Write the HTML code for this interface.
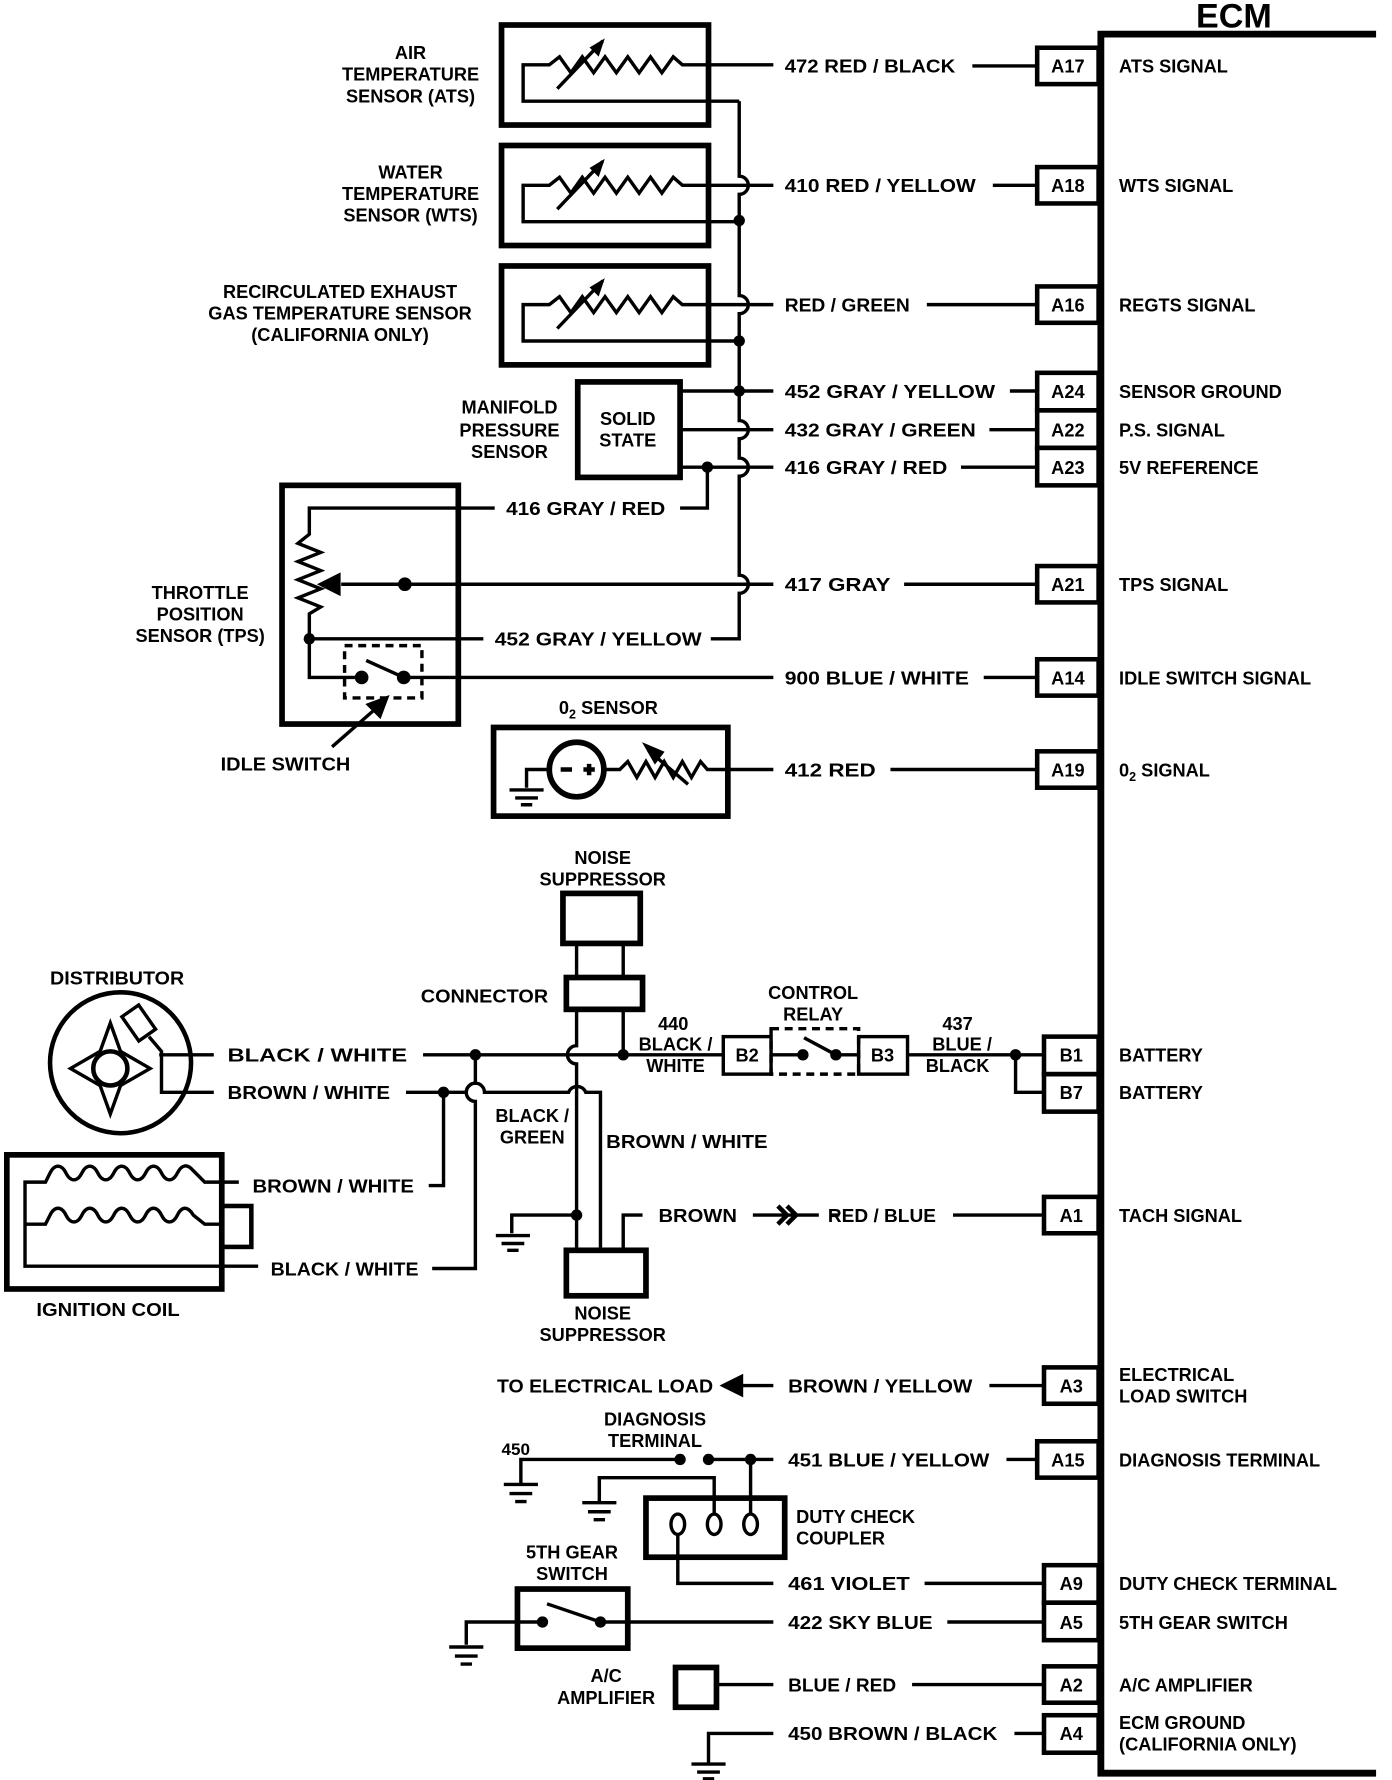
<!DOCTYPE html>
<html><head><meta charset="utf-8"><style>
html,body{margin:0;padding:0;background:#fff;}
svg{display:block;}
text{font-family:"Liberation Sans",sans-serif;font-weight:bold;font-size:16px;fill:#000;}
</style></head><body>
<svg width="1392" height="1780" viewBox="0 0 1224 1566" preserveAspectRatio="none" xmlns="http://www.w3.org/2000/svg">
<g fill="none" stroke="#000" stroke-width="3" stroke-linejoin="miter">
<!-- ECM -->
<path d="M1210 30 H968 V1560 H1210" stroke-width="6"/>
<!-- pin boxes -->
<g stroke-width="4">
<rect x="912" y="42" width="54" height="32"/>
<rect x="912" y="147" width="54" height="32"/>
<rect x="912" y="252" width="54" height="32"/>
<rect x="912" y="328" width="54" height="33"/>
<rect x="912" y="361" width="54" height="33"/>
<rect x="912" y="394" width="54" height="33"/>
<rect x="912" y="498" width="54" height="32"/>
<rect x="912" y="580" width="54" height="32"/>
<rect x="912" y="661" width="54" height="32"/>
<rect x="918" y="912" width="48" height="33"/>
<rect x="918" y="945" width="48" height="33"/>
<rect x="918" y="1053" width="48" height="32"/>
<rect x="918" y="1203" width="48" height="32"/>
<rect x="912" y="1268" width="54" height="32"/>
<rect x="918" y="1377" width="48" height="33"/>
<rect x="918" y="1410" width="48" height="33"/>
<rect x="918" y="1466" width="48" height="32"/>
<rect x="918" y="1509" width="48" height="33"/>
</g>
<!-- pin lead lines -->
<path d="M855 58H912M873 163H912M815 268H912M888 344H912M870 378H912M845 411H912M795 514H912M865 596H912M783 677H912M838 1069H918M870 1219H918M885 1284H912M813 1393H918M833 1427H918M802 1482H918M892 1525H918"/>

<!-- sensor boxes -->
<g stroke-width="5">
<rect x="441" y="22" width="182" height="88"/>
<rect x="441" y="128" width="182" height="88"/>
<rect x="441" y="234" width="182" height="87"/>
<rect x="508" y="336" width="90" height="84"/>
<rect x="248" y="427" width="155" height="210"/>
<rect x="434" y="640" width="206" height="78"/>
</g>
<!-- resistors in sensors -->
<g id="res">
<path d="M680 57 H600 L592 50 L582 64 L572 50 L562 64 L552 50 L542 64 L532 50 L522 64 L512 50 L502 64 L492 50 L483 57 H460 V89 H650"/>
<path d="M490 78 L530 36" />
<path d="M530 36 L520 42 L526 48 Z" fill="#000" stroke-width="2"/>
</g>
<use href="#res" y="106"/>
<use href="#res" y="211"/>
<!-- ground bus x=650 with hops -->
<path d="M650 89 V155 A8 8 0 0 1 650 171 V260 A8 8 0 0 1 650 276 V370 A8 8 0 0 1 650 386 V403 A8 8 0 0 1 650 419 V506 A8 8 0 0 1 650 522 V562 H625"/>
<!-- MAP lines -->
<path d="M598 344H680M598 378H680M598 411H680"/>
<path d="M622 411 V447 H598"/>
<!-- TPS internals -->
<path d="M435 447 H272 V470 L262 478 L282 486 L262 494 L282 502 L262 510 L282 518 L262 526 L282 534 L272 540 V596 H318"/>
<path d="M425 562 H272"/>
<path d="M300 514 H680"/>
<path d="M282 514 L298 506 L298 522 Z" fill="#000"/>
<path d="M322 581 L355 596 M355 596 H680"/>
<rect x="303" y="568" width="68" height="46" stroke-dasharray="7 5"/>
<path d="M292 657 L332 622"/>
<path d="M340 614 L324 620 L334 630 Z" fill="#000"/>
<!-- O2 -->
<circle cx="507" cy="677" r="24" stroke-width="5"/>
<path d="M483 677 H463 V693 M448 695H478M453 702H473M458 708H468"/>
<path d="M531 677 H545 L552 670 L560 684 L568 670 L576 684 L584 670 L592 684 L600 670 L608 684 L616 670 L622 677 H680"/>
<path d="M570 660 L605 690"/>
<path d="M568 656 L576 670 L582 662 Z" fill="#000"/>
<path d="M493 677H503M513 677H523M518 672V682" stroke-width="4"/>

<!-- noise suppressor top & connector -->
<rect x="495" y="786" width="68" height="44" stroke-width="5"/>
<rect x="498" y="860" width="67" height="28" stroke-width="5"/>
<path d="M507 830V860M548 830V860"/>
<path d="M548 888V928"/>
<path d="M507 888 V920 A8 8 0 0 0 507 936 V1100"/>
<!-- distributor -->
<circle cx="106" cy="935" r="62" stroke-width="4"/>
<circle cx="97" cy="940" r="15" stroke-width="4"/>
<path d="M97 900 L106 925 L132 940 L106 955 L97 980 L88 955 L62 940 L88 925 Z" stroke-width="3"/>
<rect x="113" y="887" width="18" height="26" transform="rotate(-35 122 900)" stroke-width="3"/>
<path d="M131 912 L142 925 V955 M140 928 H188 M142 955 V961 H188"/>
<!-- wires around distributor -->
<path d="M372 928 H548"/>
<path d="M357 961 H410 A8 8 0 0 1 426 961 H500 A8 8 0 0 1 515 961 H528 V1100"/>
<path d="M418 928 V953 A8 8 0 0 0 418 969 V1116 H380"/>
<path d="M390 961 V1043 H377"/>
<!-- ignition coil -->
<rect x="6" y="1016" width="189" height="118" stroke-width="5"/>
<rect x="195" y="1061" width="26" height="36" stroke-width="4"/>
<path d="M210 1040 H180 L170 1030 C165 1024 160 1024 156 1032 C152 1040 146 1040 142 1032 C138 1024 132 1024 128 1032 C124 1040 118 1040 114 1032 C110 1024 104 1024 100 1032 C96 1040 90 1040 86 1032 C82 1024 76 1024 72 1032 C68 1040 62 1040 58 1032 C54 1024 48 1024 44 1032 L40 1040 H22 V1114 H227"/>
<path d="M22 1077 H40 L44 1069 C48 1061 54 1061 58 1069 C62 1077 68 1077 72 1069 C76 1061 82 1061 86 1069 C90 1077 96 1077 100 1069 C104 1061 110 1061 114 1069 C118 1077 124 1077 128 1069 C132 1061 138 1061 142 1069 C146 1077 152 1077 156 1069 C160 1061 165 1061 170 1069 L180 1077 H195"/>
<!-- lower noise suppressor -->
<rect x="498" y="1100" width="70" height="40" stroke-width="5"/>
<path d="M548 1100 V1069 H565"/>
<path d="M507 1069 H450 V1085 M436 1087H466M441 1094H461M446 1100H456"/>
<path d="M662 1069 H720 M738 1069 H730"/>
<path d="M684 1061 L692 1069 L684 1077 M692 1061 L700 1069 L692 1077" stroke-width="4"/>
<!-- relay -->
<path d="M548 928 H636"/>
<rect x="636" y="912" width="42" height="33" stroke-width="3"/>
<rect x="755" y="912" width="43" height="33" stroke-width="3"/>
<rect x="678" y="905" width="77" height="40" stroke-dasharray="7 5"/>
<path d="M678 928H706 M735 928H755 M707 913 L735 928 M798 928 H918 M893 928 V961 H918"/>
<!-- bottom -->
<path d="M650 1219 H680"/>
<path d="M636 1219 L652 1211 L652 1227 Z" fill="#000"/>
<path d="M458 1306 V1284 H598 M623 1284 H680 M443 1306H473M448 1314H468M453 1321H463"/>
<path d="M660 1284 V1332 M628 1332 V1300 H527 V1322 M512 1322H542M517 1330H537M522 1337H532"/>
<rect x="568" y="1318" width="122" height="52" stroke-width="5"/>
<ellipse cx="596" cy="1341" rx="6" ry="9"/>
<ellipse cx="628" cy="1341" rx="6" ry="9"/>
<ellipse cx="660" cy="1341" rx="6" ry="9"/>
<path d="M596 1350 V1393 H680"/>
<rect x="455" y="1398" width="97" height="52" stroke-width="5"/>
<path d="M477 1427 H410 V1447 M395 1449H425M400 1457H420M405 1464H415 M481 1411 L528 1427 M528 1427 H680"/>
<rect x="594" y="1467" width="36" height="35" stroke-width="5"/>
<path d="M630 1482 H680"/>
<path d="M680 1525 H623 V1552 M608 1552H638M613 1559H633M618 1565H628"/>
</g>
<!-- dots -->
<g fill="#000">
<circle cx="650" cy="194" r="5"/><circle cx="650" cy="300" r="5"/><circle cx="650" cy="344" r="5"/>
<circle cx="622" cy="411" r="5"/><circle cx="356" cy="514" r="6"/><circle cx="272" cy="562" r="5"/>
<circle cx="318" cy="596" r="6"/><circle cx="355" cy="596" r="6"/>
<circle cx="418" cy="928" r="5"/><circle cx="548" cy="928" r="5"/><circle cx="390" cy="961" r="5"/>
<circle cx="507" cy="1069" r="5"/><circle cx="706" cy="928" r="5"/><circle cx="735" cy="928" r="5"/>
<circle cx="893" cy="928" r="5"/><circle cx="598" cy="1284" r="5"/><circle cx="623" cy="1284" r="5"/>
<circle cx="660" cy="1284" r="5"/><circle cx="477" cy="1427" r="5"/><circle cx="528" cy="1427" r="5"/>
</g>
<!-- text -->
<text x="1085" y="24" text-anchor="middle" style="font-size:30px">ECM</text>
<g text-anchor="middle">
<text x="939" y="64">A17</text><text x="939" y="169">A18</text><text x="939" y="274">A16</text>
<text x="939" y="350">A24</text><text x="939" y="384">A22</text><text x="939" y="417">A23</text>
<text x="939" y="520">A21</text><text x="939" y="602">A14</text><text x="939" y="683">A19</text>
<text x="942" y="934">B1</text><text x="942" y="967">B7</text><text x="942" y="1075">A1</text>
<text x="942" y="1225">A3</text><text x="939" y="1290">A15</text><text x="942" y="1399">A9</text>
<text x="942" y="1433">A5</text><text x="942" y="1488">A2</text><text x="942" y="1531">A4</text>
<text x="657" y="934">B2</text><text x="776" y="934">B3</text>
</g>
<g>
<text x="984" y="64">ATS SIGNAL</text>
<text x="984" y="169">WTS SIGNAL</text>
<text x="984" y="274">REGTS SIGNAL</text>
<text x="984" y="350">SENSOR GROUND</text>
<text x="984" y="384">P.S. SIGNAL</text>
<text x="984" y="417">5V REFERENCE</text>
<text x="984" y="520">TPS SIGNAL</text>
<text x="984" y="602">IDLE SWITCH SIGNAL</text>
<text x="984" y="683">0<tspan style="font-size:11px" dy="4">2</tspan><tspan dy="-4"> SIGNAL</tspan></text>
<text x="984" y="934">BATTERY</text>
<text x="984" y="967">BATTERY</text>
<text x="984" y="1075">TACH SIGNAL</text>
<text x="984" y="1215">ELECTRICAL</text>
<text x="984" y="1234">LOAD SWITCH</text>
<text x="984" y="1290">DIAGNOSIS TERMINAL</text>
<text x="984" y="1399">DUTY CHECK TERMINAL</text>
<text x="984" y="1433">5TH GEAR SWITCH</text>
<text x="984" y="1488">A/C AMPLIFIER</text>
<text x="984" y="1521">ECM GROUND</text>
<text x="984" y="1540">(CALIFORNIA ONLY)</text>

<text x="690" y="64" textLength="150" lengthAdjust="spacingAndGlyphs">472  RED / BLACK</text>
<text x="690" y="169" textLength="168" lengthAdjust="spacingAndGlyphs">410  RED / YELLOW</text>
<text x="690" y="274" textLength="110" lengthAdjust="spacingAndGlyphs">RED / GREEN</text>
<text x="690" y="350" textLength="185" lengthAdjust="spacingAndGlyphs">452  GRAY / YELLOW</text>
<text x="690" y="384" textLength="168" lengthAdjust="spacingAndGlyphs">432  GRAY / GREEN</text>
<text x="690" y="417" textLength="143" lengthAdjust="spacingAndGlyphs">416  GRAY / RED</text>
<text x="445" y="453" textLength="140" lengthAdjust="spacingAndGlyphs">416  GRAY / RED</text>
<text x="690" y="520" textLength="93" lengthAdjust="spacingAndGlyphs">417  GRAY</text>
<text x="435" y="568" textLength="182" lengthAdjust="spacingAndGlyphs">452  GRAY / YELLOW</text>
<text x="690" y="602" textLength="162" lengthAdjust="spacingAndGlyphs">900  BLUE / WHITE</text>
<text x="690" y="683" textLength="80" lengthAdjust="spacingAndGlyphs">412  RED</text>
<text x="200" y="934" textLength="158" lengthAdjust="spacingAndGlyphs">BLACK / WHITE</text>
<text x="200" y="967" textLength="143" lengthAdjust="spacingAndGlyphs">BROWN / WHITE</text>
<text x="222" y="1049" textLength="142" lengthAdjust="spacingAndGlyphs">BROWN / WHITE</text>
<text x="238" y="1122" textLength="130" lengthAdjust="spacingAndGlyphs">BLACK / WHITE</text>
<text x="533" y="1010" textLength="142" lengthAdjust="spacingAndGlyphs">BROWN / WHITE</text>
<text x="579" y="1075" textLength="69" lengthAdjust="spacingAndGlyphs">BROWN</text>
<text x="728" y="1075" textLength="95" lengthAdjust="spacingAndGlyphs">RED / BLUE</text>
<text x="437" y="1225" textLength="190" lengthAdjust="spacingAndGlyphs">TO ELECTRICAL LOAD</text>
<text x="693" y="1225" textLength="162" lengthAdjust="spacingAndGlyphs">BROWN / YELLOW</text>
<text x="441" y="1280" style="font-size:15px">450</text>
<text x="693" y="1290" textLength="177" lengthAdjust="spacingAndGlyphs">451  BLUE / YELLOW</text>
<text x="693" y="1399" textLength="107" lengthAdjust="spacingAndGlyphs">461  VIOLET</text>
<text x="693" y="1433" textLength="127" lengthAdjust="spacingAndGlyphs">422  SKY BLUE</text>
<text x="693" y="1488" textLength="95" lengthAdjust="spacingAndGlyphs">BLUE / RED</text>
<text x="693" y="1531" textLength="184" lengthAdjust="spacingAndGlyphs">450  BROWN / BLACK</text>
<text x="700" y="1340">DUTY CHECK</text>
<text x="700" y="1359">COUPLER</text>
<text x="370" y="882" textLength="112" lengthAdjust="spacingAndGlyphs">CONNECTOR</text>
<text x="194" y="678" textLength="114" lengthAdjust="spacingAndGlyphs">IDLE SWITCH</text>
<text x="32" y="1158" textLength="126" lengthAdjust="spacingAndGlyphs">IGNITION COIL</text>
<text x="44" y="866" textLength="118" lengthAdjust="spacingAndGlyphs">DISTRIBUTOR</text>
</g>
<g text-anchor="middle">
<text x="361" y="52">AIR</text><text x="361" y="71">TEMPERATURE</text><text x="361" y="90">SENSOR (ATS)</text>
<text x="361" y="157">WATER</text><text x="361" y="176">TEMPERATURE</text><text x="361" y="195">SENSOR (WTS)</text>
<text x="299" y="262">RECIRCULATED EXHAUST</text><text x="299" y="281">GAS TEMPERATURE SENSOR</text><text x="299" y="300">(CALIFORNIA ONLY)</text>
<text x="448" y="364">MANIFOLD</text><text x="448" y="384">PRESSURE</text><text x="448" y="403">SENSOR</text>
<text x="552" y="374">SOLID</text><text x="552" y="393">STATE</text>
<text x="176" y="527">THROTTLE</text><text x="176" y="546">POSITION</text><text x="176" y="565">SENSOR (TPS)</text>
<text x="535" y="628">0<tspan style="font-size:11px" dy="4">2</tspan><tspan dy="-4"> SENSOR</tspan></text>
<text x="530" y="760">NOISE</text><text x="530" y="779">SUPPRESSOR</text>
<text x="715" y="879">CONTROL</text><text x="715" y="898">RELAY</text>
<text x="592" y="906">440</text><text x="594" y="924">BLACK /</text><text x="594" y="943">WHITE</text>
<text x="842" y="906">437</text><text x="846" y="924">BLUE /</text><text x="842" y="943">BLACK</text>
<text x="468" y="987">BLACK /</text><text x="468" y="1006">GREEN</text>
<text x="530" y="1161">NOISE</text><text x="530" y="1180">SUPPRESSOR</text>
<text x="576" y="1254">DIAGNOSIS</text><text x="576" y="1273">TERMINAL</text>
<text x="503" y="1371">5TH GEAR</text><text x="503" y="1390">SWITCH</text>
<text x="533" y="1480">A/C</text><text x="533" y="1499">AMPLIFIER</text>
</g>
</svg>
</body></html>
